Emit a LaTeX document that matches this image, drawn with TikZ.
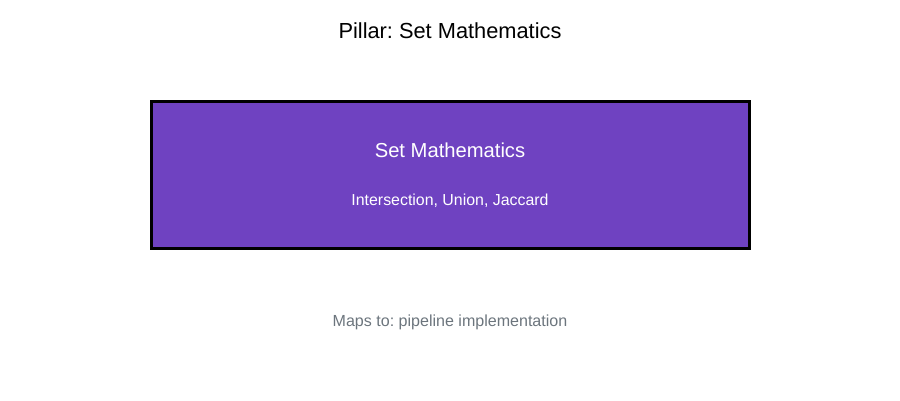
\documentclass[tikz,border=0pt]{standalone}
\usepackage{fontspec}
\setmainfont{Liberation Sans}
\usepackage{tikz}
\usetikzlibrary{positioning}
\frenchspacing
\definecolor{pillarpurple}{HTML}{6F42C1}
\definecolor{mapgray}{HTML}{6C757D}
\tikzstyle{pillar}=[shape=rectangle,draw=black,line width=3pt,fill=pillarpurple,minimum width=598pt,minimum height=147pt,inner sep=0pt]
\tikzstyle{ttl}=[font=\fontsize{21.8}{26}\selectfont,inner sep=0pt]
\tikzstyle{head}=[font=\fontsize{20.2}{24}\selectfont,text=white,inner sep=0pt]
\tikzstyle{sub}=[font=\fontsize{15.9}{19}\selectfont,text=white,inner sep=0pt]
\tikzstyle{maps}=[font=\fontsize{16.05}{19}\selectfont,text=mapgray,inner sep=0pt]

\begin{document}
\begin{tikzpicture}[x = 1pt, y = -1pt]
\useasboundingbox (0,0) rectangle (900,400);

\node[ttl] (title) at (450,31) {Pillar: Set Mathematics};
\node[pillar] (box) at (450,174.5) {};
\node[head] (boxname) at (450,150) {Set Mathematics};
\node[sub] (boxops) at (450,201) {Intersection, Union, Jaccard};
\node[maps] (mapsto) at (450,322) {Maps to: pipeline implementation};
\end{tikzpicture}
\end{document}
